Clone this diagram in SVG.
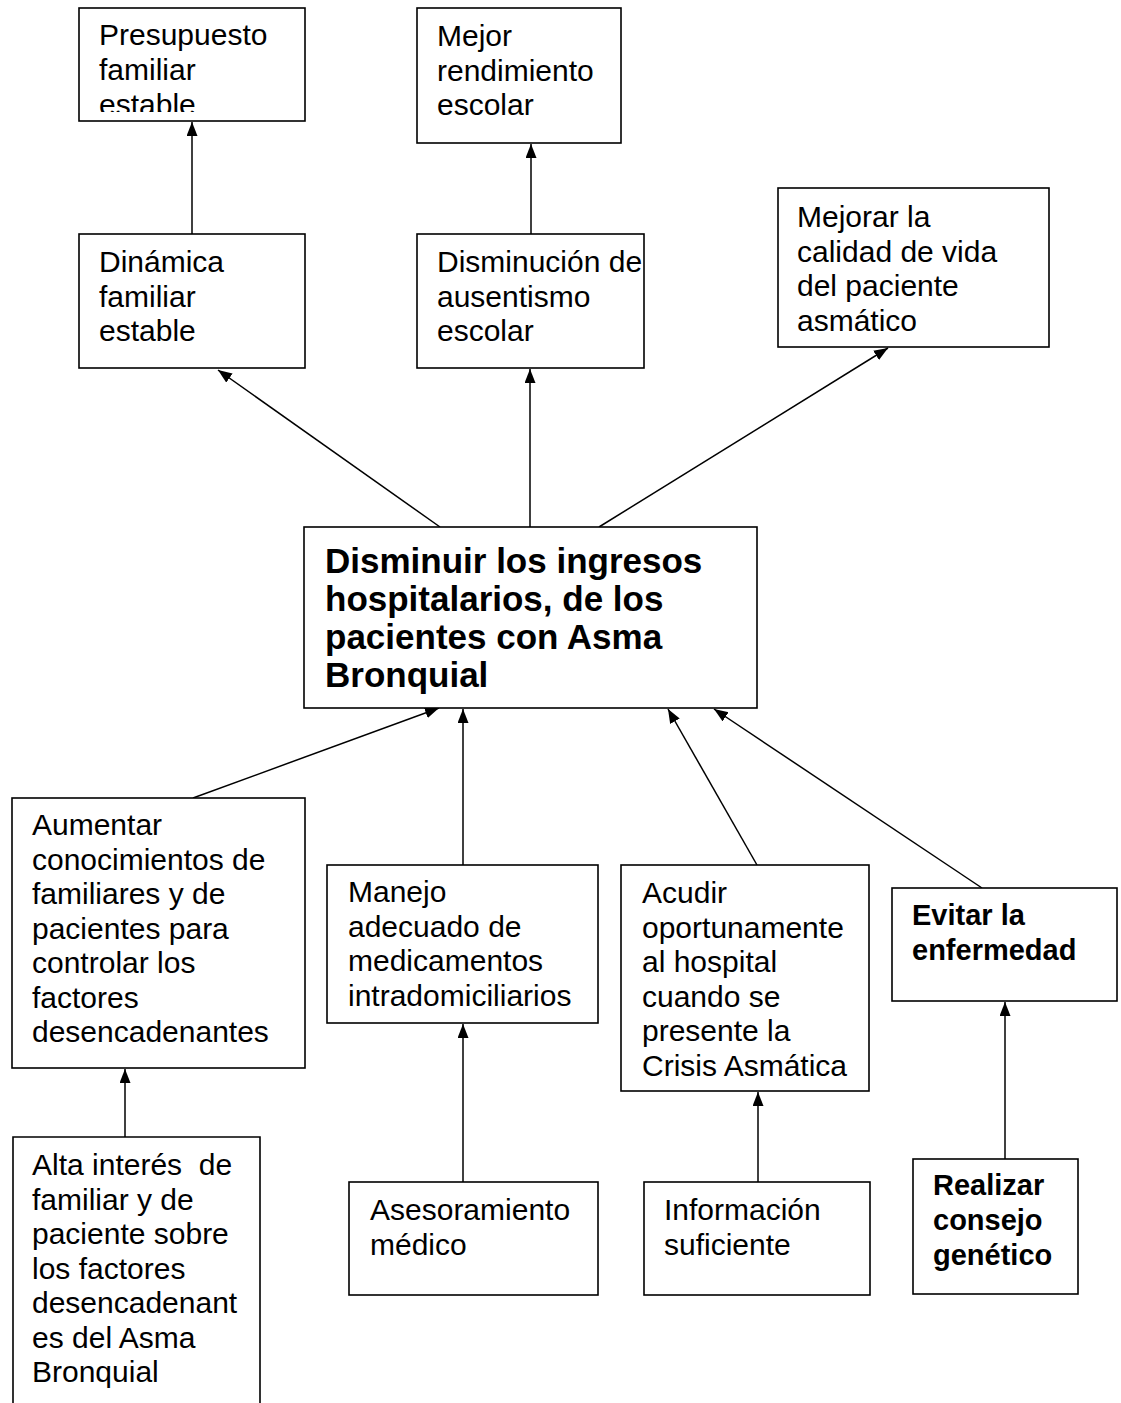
<svg xmlns="http://www.w3.org/2000/svg" width="1121" height="1403" viewBox="0 0 1121 1403">
<style>
.box{fill:#fff;stroke:#000;stroke-width:1.6}
.t{font-family:"Liberation Sans",Arial,sans-serif;font-size:30px;fill:#000}
.b{font-family:"Liberation Sans",Arial,sans-serif;font-size:29px;font-weight:bold;fill:#000}
.bb{font-family:"Liberation Sans",Arial,sans-serif;font-size:35px;font-weight:bold;fill:#000}
.c{stroke:#000;stroke-width:1.5;fill:none;marker-end:url(#ah)}
</style>
<defs>
<marker id="ah" markerUnits="userSpaceOnUse" markerWidth="15" markerHeight="12" refX="14" refY="5.5" orient="auto">
<path d="M0,0 L14,5.5 L0,11 z" fill="#000"/>
</marker>
<clipPath id="clip1"><rect x="79" y="8" width="226" height="104"/></clipPath>
</defs>
<rect width="1121" height="1403" fill="#fff"/>
<g id="connectors">
<line class="c" x1="192" y1="234" x2="192" y2="122"/>
<line class="c" x1="531" y1="234" x2="531" y2="144"/>
<line class="c" x1="440" y1="527" x2="218" y2="370"/>
<line class="c" x1="530" y1="527" x2="530" y2="369"/>
<line class="c" x1="599" y1="527" x2="888" y2="348"/>
<line class="c" x1="193" y1="798" x2="439" y2="708"/>
<line class="c" x1="463" y1="865" x2="463" y2="709"/>
<line class="c" x1="757" y1="865" x2="668" y2="709"/>
<line class="c" x1="982" y1="888" x2="714" y2="709"/>
<line class="c" x1="125" y1="1137" x2="125" y2="1069"/>
<line class="c" x1="463" y1="1182" x2="463" y2="1024"/>
<line class="c" x1="758" y1="1182" x2="758" y2="1092"/>
<line class="c" x1="1005" y1="1159" x2="1005" y2="1002"/>
</g>
<g id="n-presupuesto">
<rect class="box" x="79" y="8" width="226" height="113"/>
<g clip-path="url(#clip1)">
<text class="t" x="99" y="45">Presupuesto</text>
<text class="t" x="99" y="80">familiar</text>
<text class="t" x="99" y="115">estable</text>
</g>
</g>
<g id="n-mejor">
<rect class="box" x="417" y="8" width="204" height="135"/>
<text class="t" x="437" y="46">Mejor</text>
<text class="t" x="437" y="80.5">rendimiento</text>
<text class="t" x="437" y="115">escolar</text>
</g>
<g id="n-dinamica">
<rect class="box" x="79" y="234" width="226" height="134"/>
<text class="t" x="99" y="272">Dinámica</text>
<text class="t" x="99" y="306.5">familiar</text>
<text class="t" x="99" y="341">estable</text>
</g>
<g id="n-disminucion">
<rect class="box" x="417" y="234" width="227" height="134"/>
<text class="t" x="437" y="272">Disminución de</text>
<text class="t" x="437" y="306.5">ausentismo</text>
<text class="t" x="437" y="341">escolar</text>
</g>
<g id="n-mejorar">
<rect class="box" x="778" y="188" width="271" height="159"/>
<text class="t" x="797" y="227">Mejorar la</text>
<text class="t" x="797" y="261.5">calidad de vida</text>
<text class="t" x="797" y="296">del paciente</text>
<text class="t" x="797" y="330.5">asmático</text>
</g>
<g id="n-central">
<rect class="box" x="304" y="527" width="453" height="181"/>
<text class="bb" x="325" y="573">Disminuir los ingresos</text>
<text class="bb" x="325" y="611">hospitalarios, de los</text>
<text class="bb" x="325" y="649">pacientes con Asma</text>
<text class="bb" x="325" y="687">Bronquial</text>
</g>
<g id="n-aumentar">
<rect class="box" x="12" y="798" width="293" height="270"/>
<text class="t" x="32" y="835">Aumentar</text>
<text class="t" x="32" y="869.5">conocimientos de</text>
<text class="t" x="32" y="904">familiares y de</text>
<text class="t" x="32" y="938.5">pacientes para</text>
<text class="t" x="32" y="973">controlar los</text>
<text class="t" x="32" y="1007.5">factores</text>
<text class="t" x="32" y="1042">desencadenantes</text>
</g>
<g id="n-manejo">
<rect class="box" x="327" y="865" width="271" height="158"/>
<text class="t" x="348" y="902">Manejo</text>
<text class="t" x="348" y="936.5">adecuado de</text>
<text class="t" x="348" y="971">medicamentos</text>
<text class="t" x="348" y="1005.5">intradomiciliarios</text>
</g>
<g id="n-acudir">
<rect class="box" x="621" y="865" width="248" height="226"/>
<text class="t" x="642" y="903">Acudir</text>
<text class="t" x="642" y="937.5">oportunamente</text>
<text class="t" x="642" y="972">al hospital</text>
<text class="t" x="642" y="1006.5">cuando se</text>
<text class="t" x="642" y="1041">presente la</text>
<text class="t" x="642" y="1075.5">Crisis Asmática</text>
</g>
<g id="n-evitar">
<rect class="box" x="892" y="888" width="225" height="113"/>
<text class="b" x="912" y="925">Evitar la</text>
<text class="b" x="912" y="960">enfermedad</text>
</g>
<g id="n-alta">
<path class="box" d="M13,1420 L13,1137 L260,1137 L260,1420" fill="#fff"/>
<text class="t" x="32" y="1175" style="white-space:pre" xml:space="preserve">Alta interés  de</text>
<text class="t" x="32" y="1209.5">familiar y de</text>
<text class="t" x="32" y="1244">paciente sobre</text>
<text class="t" x="32" y="1278.5">los factores</text>
<text class="t" x="32" y="1313">desencadenant</text>
<text class="t" x="32" y="1347.5">es del Asma</text>
<text class="t" x="32" y="1382">Bronquial</text>
</g>
<g id="n-asesoramiento">
<rect class="box" x="349" y="1182" width="249" height="113"/>
<text class="t" x="370" y="1220">Asesoramiento</text>
<text class="t" x="370" y="1254.5">médico</text>
</g>
<g id="n-informacion">
<rect class="box" x="644" y="1182" width="226" height="113"/>
<text class="t" x="664" y="1220">Información</text>
<text class="t" x="664" y="1254.5">suficiente</text>
</g>
<g id="n-realizar">
<rect class="box" x="913" y="1159" width="165" height="135"/>
<text class="b" x="933" y="1195">Realizar</text>
<text class="b" x="933" y="1230">consejo</text>
<text class="b" x="933" y="1265">genético</text>
</g>
</svg>
